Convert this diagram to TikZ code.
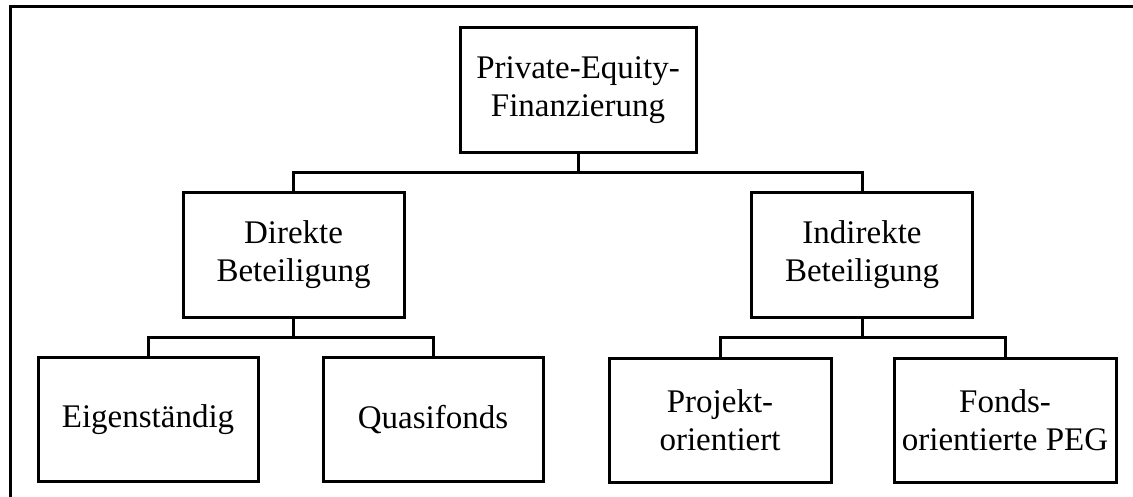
\documentclass[tikz,border=0pt]{standalone}
\usepackage{fontspec}
\setmainfont{Liberation Serif}
\begin{document}
\begin{tikzpicture}[x=1pt,y=-1pt,
  box/.style={draw, line width=3pt, minimum width=221pt, minimum height=124pt,
    inner sep=0pt, outer sep=0pt, align=center,
    font=\fontsize{33}{38}\selectfont},
  link/.style={line width=3pt}]
\useasboundingbox (0,0) rectangle (1133,497);
\begin{scope}
  \clip (0,0) rectangle (1133,497);
  % open frame around the chart
  \draw[line width=3pt] (10,520) -- (10,7) -- (1150,7);
\end{scope}
% boxes
\node[box, minimum width=236pt, minimum height=125pt] (top) at (578,90.5) {Private-Equity-\\Finanzierung};
\node[box] (dir) at (293.5,255) {Direkte\\Beteiligung};
\node[box] (ind) at (862,255) {Indirekte\\Beteiligung};
\node[box, minimum width=220pt] (eig) at (148,419.5) {Eigenständig};
\node[box, minimum width=220pt] (qua) at (433,419.5) {Quasifonds};
\node[box, minimum width=222pt] (pro) at (720,420) {Projekt-\\orientiert};
\node[box, minimum width=222pt] (fon) at (1005,420) {Fonds-\\orientierte PEG};
% bus lines
\coordinate (b1) at (0,173);
\coordinate (b2) at (0,337);
\draw[link] (top.south) -- (top.south |- b1);
\draw[link] (dir.north) -- (dir.north |- b1) -- (ind.north |- b1) -- (ind.north);
\draw[link] (dir.south) -- (dir.south |- b2);
\draw[link] (eig.north) -- (eig.north |- b2) -- (qua.north |- b2) -- (qua.north);
\draw[link] (ind.south) -- (ind.south |- b2);
\draw[link] (pro.north) -- (pro.north |- b2) -- (fon.north |- b2) -- (fon.north);
\end{tikzpicture}
\end{document}
